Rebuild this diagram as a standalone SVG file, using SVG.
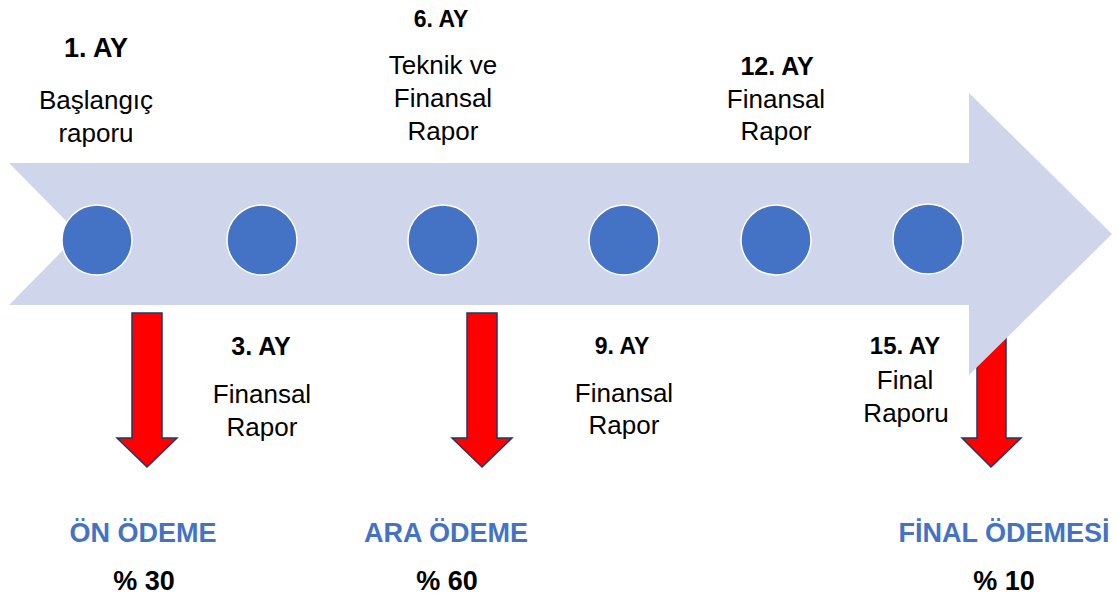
<svg xmlns="http://www.w3.org/2000/svg" width="1118" height="599" viewBox="0 0 1118 599">
<style>
  text { font-family: "Liberation Sans", Arial, sans-serif; text-anchor: middle; fill: #000; }
  .b { font-weight: bold; }
  .r { font-size: 26px; }
  .pay { font-weight: bold; font-size: 27px; fill: #4472C4; }
  .pct { font-weight: bold; font-size: 27px; }
  .dot { fill: #4472C4; stroke: #FFFFFF; stroke-width: 1.5; }
  .down { fill: #FF0000; stroke: #203864; stroke-width: 1.5; stroke-linejoin: miter; }
</style>
<rect width="1118" height="599" fill="#FFFFFF"/>
<g id="connectors">
  <polygon class="down" points="132,313 162,313 162,438 177,438 147,467 117,438 132,438"/>
  <polygon class="down" points="467,313 497,313 497,438 512,438 482,467 452,438 467,438"/>
  <polygon class="down" points="977,300 1006,300 1006,438 1021,438 991,467 962,438 977,438"/>
</g>
<g id="timeline">
  <polygon points="9,163 969,163 969,93 1112,234 969,375 969,305 9,305 79,234" fill="#CFD5EA"/>
</g>
<g id="m1">
  <circle class="dot" cx="97" cy="240" r="35"/>
  <text class="b" x="96" y="57" font-size="27">1. AY</text>
  <text class="r" x="96" y="109">Başlangıç</text>
  <text class="r" x="96" y="142">raporu</text>
</g>
<g id="m3">
  <circle class="dot" cx="262" cy="240" r="35"/>
  <text class="b" x="261" y="355" font-size="25">3. AY</text>
  <text class="r" x="262" y="403">Finansal</text>
  <text class="r" x="262" y="436">Rapor</text>
</g>
<g id="m6">
  <circle class="dot" cx="443" cy="240" r="35"/>
  <text class="b" x="441" y="27" font-size="23">6. AY</text>
  <text class="r" x="443" y="74">Teknik ve</text>
  <text class="r" x="443" y="107">Finansal</text>
  <text class="r" x="443" y="140">Rapor</text>
</g>
<g id="m9">
  <circle class="dot" cx="624" cy="240" r="35"/>
  <text class="b" x="622" y="354" font-size="23">9. AY</text>
  <text class="r" x="624" y="402">Finansal</text>
  <text class="r" x="624" y="434">Rapor</text>
</g>
<g id="m12">
  <circle class="dot" cx="776" cy="240" r="35"/>
  <text class="b" x="777" y="75" font-size="25">12. AY</text>
  <text class="r" x="776" y="108">Finansal</text>
  <text class="r" x="776" y="140">Rapor</text>
</g>
<g id="m15">
  <circle class="dot" cx="928" cy="239" r="35"/>
  <text class="b" x="905" y="354" font-size="24">15. AY</text>
  <text class="r" x="905" y="389">Final</text>
  <text class="r" x="906" y="422">Raporu</text>
</g>
<g id="p1">
  <text class="pay" x="143" y="542">ÖN ÖDEME</text>
  <text class="pct" x="144" y="590">% 30</text>
</g>
<g id="p2">
  <text class="pay" x="446" y="542">ARA ÖDEME</text>
  <text class="pct" x="447" y="590">% 60</text>
</g>
<g id="p3">
  <text class="pay" x="1004" y="542">FİNAL ÖDEMESİ</text>
  <text class="pct" x="1004" y="590">% 10</text>
</g>
</svg>
